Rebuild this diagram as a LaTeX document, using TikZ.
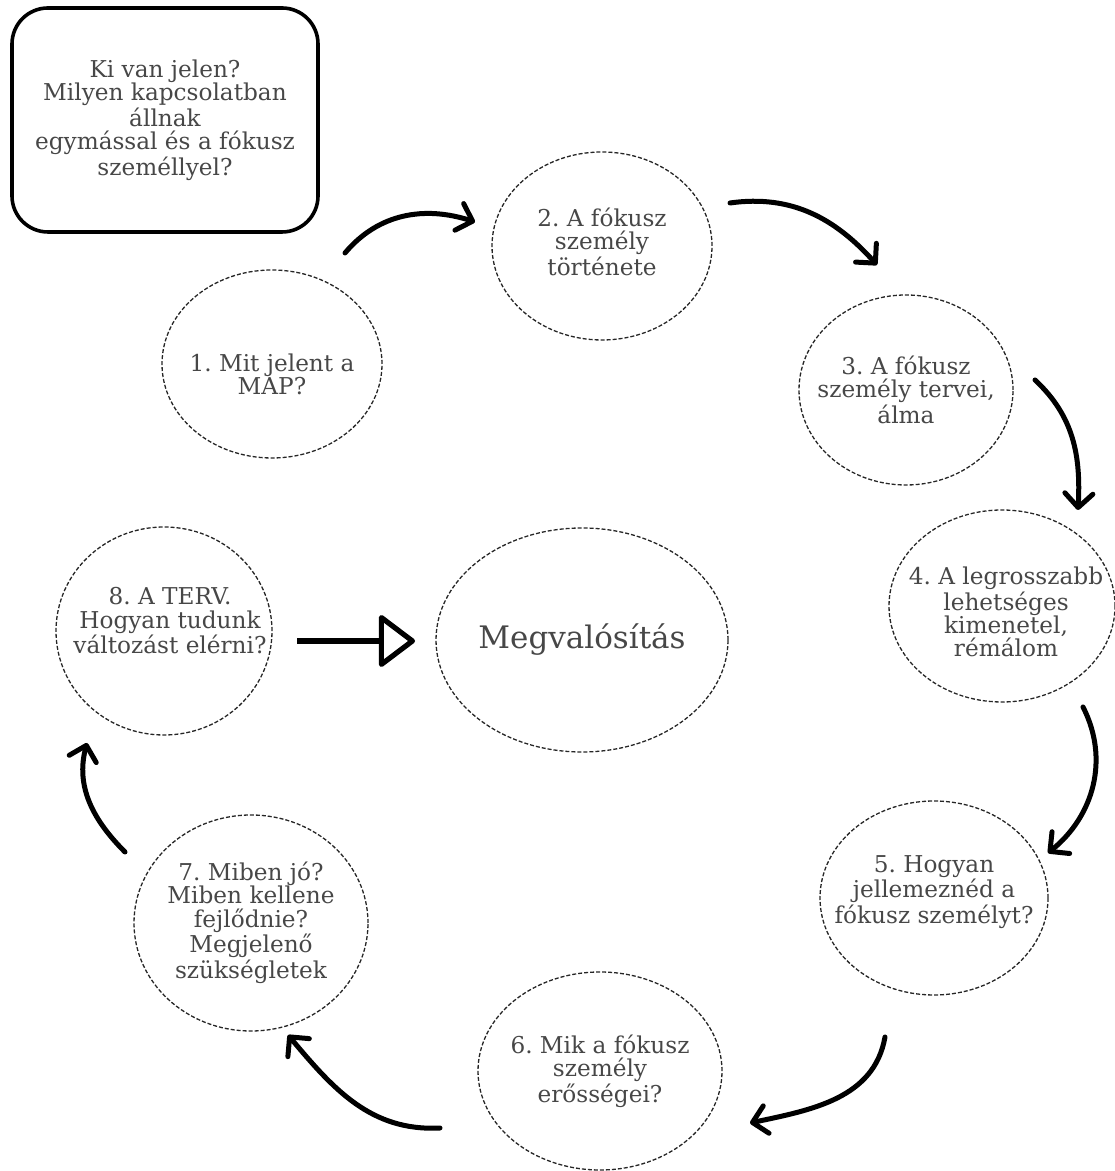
\documentclass[tikz,border=0pt]{standalone}
\usepackage{fontspec}
\setmainfont{DejaVu Serif}
\frenchspacing
\usetikzlibrary{shapes.geometric, arrows.meta, calc}

\begin{document}
\begin{tikzpicture}[
    x=0.5pt, y=0.5pt,
    font=\fontsize{11.6}{11.6}\selectfont,
    bubble/.style={draw=black!85, ellipse, inner sep=0pt, line width=0.65pt, dash pattern=on 2pt off 1pt},
    txt/.style={align=center, text=black!72},
    qbox/.style={draw, line width=1.8pt, rounded corners=18pt, minimum width=153pt, minimum height=112pt, align=center, text=black!72},
    flow/.style={-{Straight Barb[length=7pt, width=14pt, round]}, line width=2.5pt, line cap=round},
    push/.style={-{Triangle[open, length=19pt, width=28pt, round]}, line width=2.6pt}
]
\useasboundingbox (0,0) rectangle (1114,1171);

% Question box, top left
\node[qbox] (kerdes) at (165,1051) {Ki van jelen?\\Milyen kapcsolatban\\állnak\\egymással és a fókusz\\személlyel?};

% The eight steps, clockwise
\node[bubble, minimum width=110pt, minimum height=94pt, label={[txt, yshift=-5pt]center:{1. Mit jelent a\\MAP?}}] (map) at (272,807) {};
\node[bubble, minimum width=110pt, minimum height=94pt, label={[txt, yshift=2pt]center:{2. A fókusz\\személy\\története}}] (hist) at (602,925) {};
\node[bubble, minimum width=107pt, minimum height=95pt, label={[txt]center:{3. A fókusz\\személy tervei,\\álma}}] (plans) at (906,781) {};
\node[bubble, minimum width=113pt, minimum height=96pt, label={[txt, yshift=-3pt, xshift=2pt]center:{4. A legrosszabb\\lehetséges\\kimenetel,\\rémálom}}] (worst) at (1002,565) {};
\node[bubble, minimum width=114pt, minimum height=97pt, label={[txt, yshift=3pt]center:{5. Hogyan\\jellemeznéd a\\fókusz személyt?}}] (char) at (934,273) {};
\node[bubble, minimum width=122pt, minimum height=99pt, label={[txt]center:{6. Mik a fókusz\\személy\\erősségei?}}] (strength) at (600,100) {};
\node[bubble, minimum width=117pt, minimum height=108pt, label={[txt]center:{7. Miben jó?\\Miben kellene\\fejlődnie?\\Megjelenő\\szükségletek}}] (needs) at (251,248) {};
\node[bubble, minimum width=108pt, minimum height=104pt, label={[txt, yshift=5pt, xshift=3pt]center:{8. A TERV.\\Hogyan tudunk\\változást elérni?}}] (plan) at (164,540) {};

% Centre
\node[bubble, minimum width=146pt, minimum height=112pt, label={[txt, font=\fontsize{15.5}{18}\selectfont]center:Megvalósítás}] (megval) at (582,531) {};

% arrows round the cycle
\draw[flow] ($(map)+(73,111)$) to[out=50, in=162] ($(hist)+(-127,24)$);
\draw[flow] ($(hist)+(128,43)$) to[out=8, in=132] ($(plans)+(-29,125)$);
\draw[flow] ($(plans)+(129,10)$) to[out=-43, in=87] ($(worst)+(76,96)$);
\draw[flow] ($(worst)+(81,-101)$) to[out=-63, in=39] ($(char)+(114,45)$);
\draw[flow] ($(char)+(-49,-139)$) to[out=-100, in=12] ($(strength)+(150,-52)$);
\draw[flow] ($(strength)+(-160,-57)$) to[out=183, in=-50] ($(needs)+(37,-112)$);
\draw[flow] ($(needs)+(-126,71)$) to[out=135, in=-105] ($(plan)+(-77,-112)$);

% plan into action
\draw[push] ($(plan)+(133,-10)$) -- ($(megval)+(-167,-1)$);

\end{tikzpicture}
\end{document}
